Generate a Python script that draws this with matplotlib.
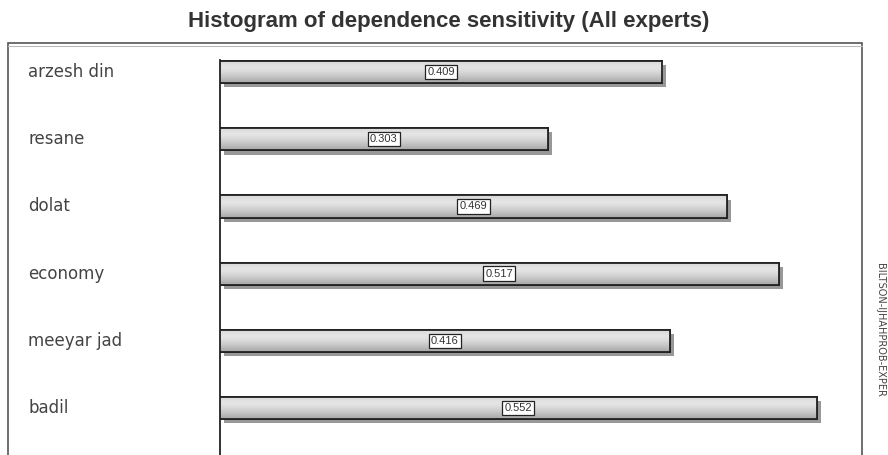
import matplotlib
matplotlib.use("Agg")
import matplotlib.pyplot as plt
import matplotlib.patheffects as pe
import matplotlib.transforms as mtransforms
from matplotlib.patches import Rectangle
import numpy as np

categories = ["arzesh din", "resane", "dolat", "economy", "meeyar jad", "badil"]
values = [0.409, 0.303, 0.469, 0.517, 0.416, 0.552]
value_labels = ["0.409", "0.303", "0.469", "0.517", "0.416", "0.552"]
title = "Histogram of dependence sensitivity (All experts)"
side_text = "BILTSON-IJHAHPROB-EXPER"

W, H = 888, 455
fig = plt.figure(figsize=(W / 100, H / 100), dpi=100)
fig.patch.set_facecolor("white")

# outer frame
fig.add_artist(Rectangle((8 / W, -0.1), (862 - 8) / W, (H - 43) / H + 0.1,
                         transform=fig.transFigure, fill=False,
                         edgecolor="#555555", linewidth=1.2))
fig.add_artist(plt.Line2D([8 / W, 862 / W], [(H - 45.5) / H] * 2,
                          transform=fig.transFigure, color="#bbbbbb", lw=0.8))

fig.text(449 / W, 1 - 22 / H, title, ha="center", va="center",
         fontsize=16, fontweight="bold", color="#333333",
         family="Liberation Sans")

ax_left, ax_right = 220 / W, 862 / W
ax = fig.add_axes([ax_left, 0, ax_right - ax_left, 1 - 60 / H])
ax.set_facecolor("none")
px_per_unit = 1081.0
ax.set_xlim(0, (862 - 220) / px_per_unit)
ax.set_ylim(-0.70, 5.18)
for s in ["top", "right", "bottom"]:
    ax.spines[s].set_visible(False)
ax.spines["left"].set_color("#222222")
ax.spines["left"].set_linewidth(1.3)
ax.set_xticks([])
ax.set_yticks([])

n = len(categories)
ypos = [n - 1 - i for i in range(n)]
t = np.linspace(0, 1, 64)
gcol = np.where(t < 0.3, 0.84 + 0.06 * t / 0.3, 0.90 - 0.25 * ((t - 0.3) / 0.7) ** 1.3)
gcol = gcol.reshape(-1, 1)

bars = ax.barh(ypos, values, height=0.33, color="#d0d0d0",
               edgecolor="#222222", linewidth=1.3, zorder=3)
for b in bars:
    b.set_path_effects([pe.SimplePatchShadow(offset=(3, -3), shadow_rgbFace="#444444", alpha=0.55),
                        pe.Normal()])
    x0, y0 = b.get_x(), b.get_y()
    w, h = b.get_width(), b.get_height()
    im = ax.imshow(gcol, cmap="gray", vmin=0, vmax=1, aspect="auto",
                   extent=[x0, x0 + w, y0, y0 + h], origin="upper",
                   zorder=3.5, interpolation="bilinear")
    im.set_clip_path(b)
    ax.add_patch(Rectangle((x0, y0), w, h, fill=False, edgecolor="#222222",
                           linewidth=1.3, zorder=4))

for y, v, lab in zip(ypos, values, value_labels):
    ax.text(v / 2, y, lab, ha="center", va="center", fontsize=8, color="#333333",
            zorder=5, family="Liberation Sans",
            bbox=dict(boxstyle="square,pad=0.2", facecolor="white",
                      edgecolor="#222222", linewidth=0.9))

trans = mtransforms.blended_transform_factory(fig.transFigure, ax.transData)
for y, c in zip(ypos, categories):
    ax.text(28 / W, y, c, transform=trans, ha="left", va="center",
            fontsize=12, color="#444444", family="DejaVu Sans", clip_on=False)

fig.text(880 / W, 1 - 330 / H, side_text, rotation=-90, ha="center", va="center",
         fontsize=7, color="#444444", family="Liberation Sans Narrow")

fig.savefig("out.png", dpi=100, facecolor="white")
